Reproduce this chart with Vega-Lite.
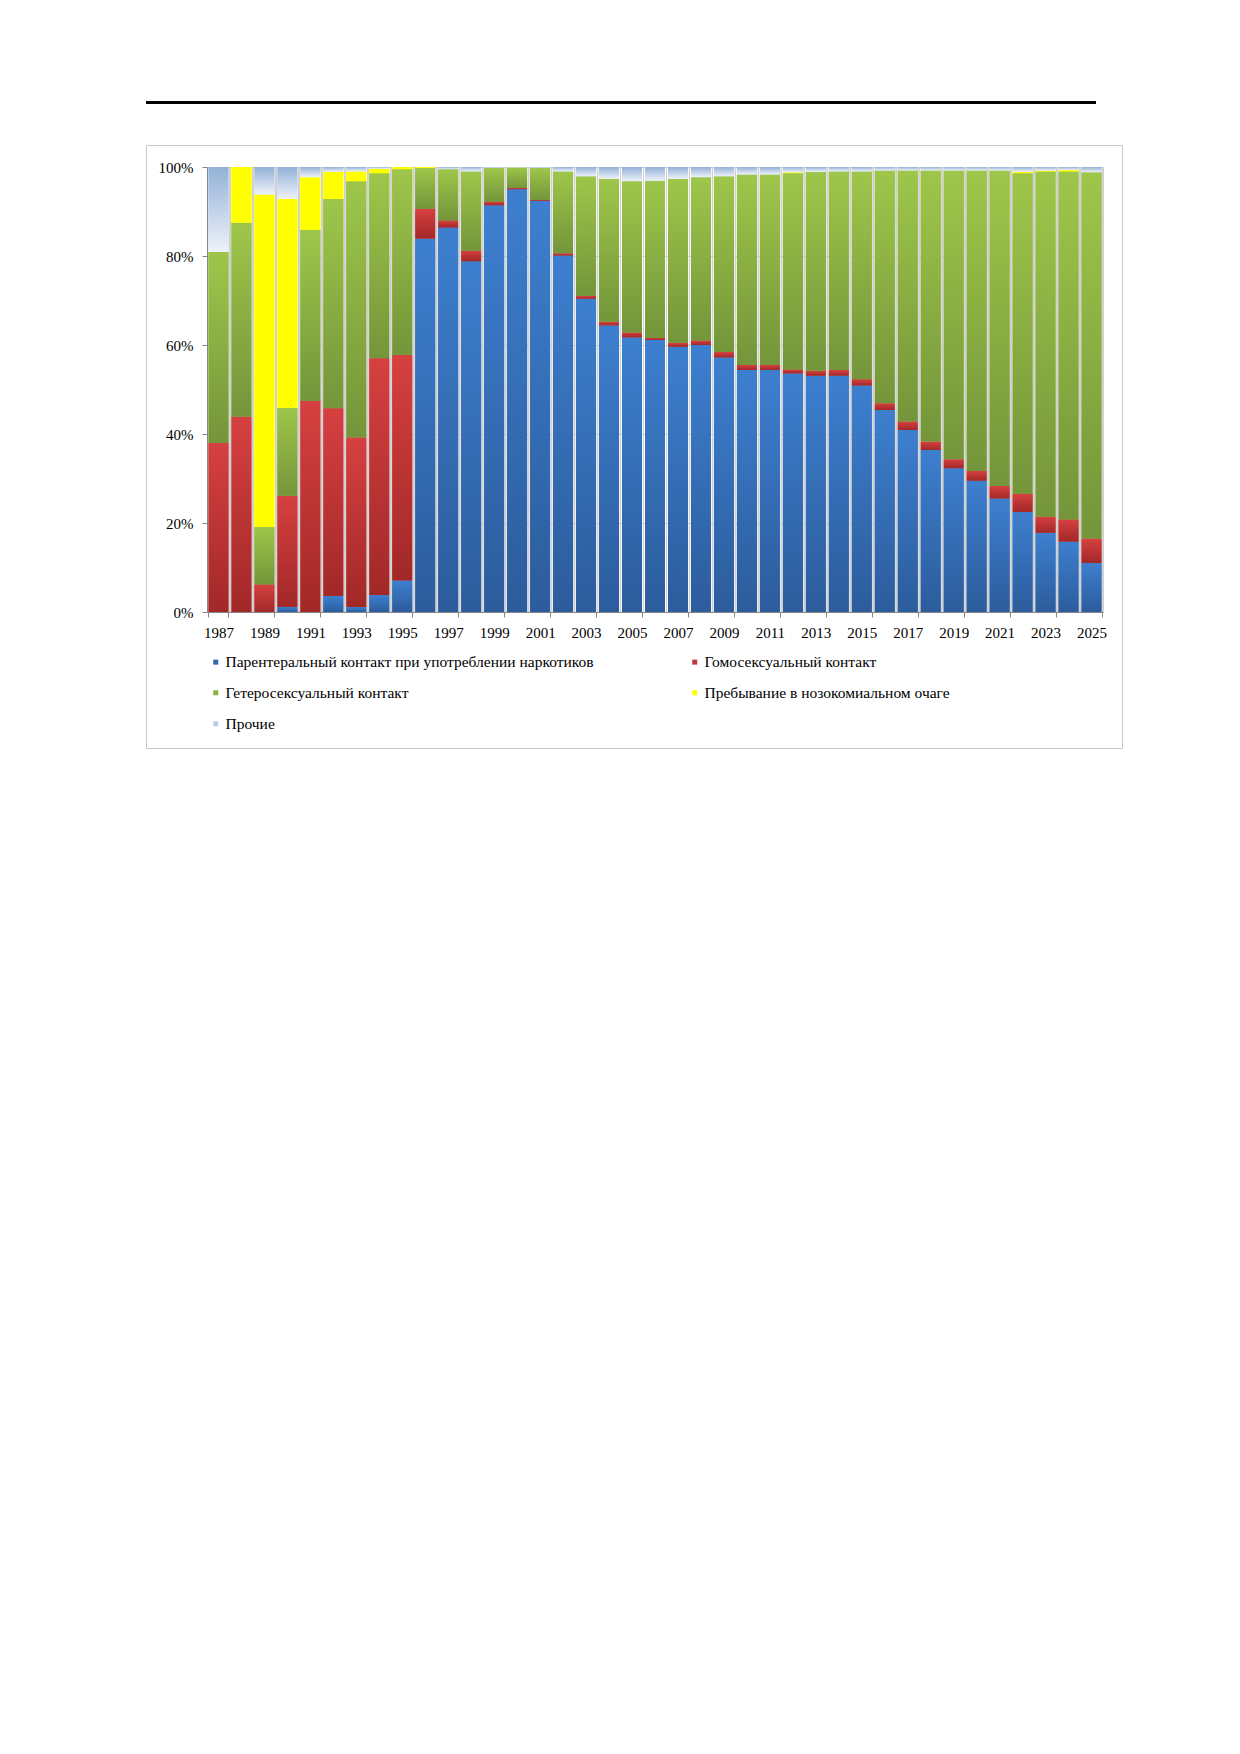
{
  "$schema": "https://vega.github.io/schema/vega-lite/v6.json",
  "description": "Распределение путей передачи ВИЧ по годам, 1987-2025, доля в процентах.",
  "padding": {"left": 145, "top": 96, "right": 0, "bottom": 0},
  "spacing": 36,
  "config": {"font": "Liberation Serif"},
  "vconcat": [
    {
      "width": 950,
      "height": 3,
      "view": {"stroke": null, "fill": "#000000"},
      "data": {"values": [{}]},
      "mark": {"type": "text"},
      "encoding": {"text": {"value": ""}}
    },
    {
      "width": 976,
      "height": 603,
      "view": {"stroke": "#C8C8C8", "strokeWidth": 1, "fill": "#FFFFFF"},
      "data": {
        "values": [
          {"year": 1987, "idu": 0, "msm": 38.0, "het": 42.9, "noso": 0, "oth": 19.1},
          {"year": 1988, "idu": 0, "msm": 43.9, "het": 43.6, "noso": 12.5, "oth": 0},
          {"year": 1989, "idu": 0, "msm": 6.2, "het": 12.9, "noso": 74.7, "oth": 6.2},
          {"year": 1990, "idu": 1.1, "msm": 25.0, "het": 19.8, "noso": 46.9, "oth": 7.2},
          {"year": 1991, "idu": 0, "msm": 47.4, "het": 38.5, "noso": 11.8, "oth": 2.3},
          {"year": 1992, "idu": 3.6, "msm": 42.2, "het": 47.0, "noso": 6.1, "oth": 1.1},
          {"year": 1993, "idu": 1.1, "msm": 38.1, "het": 57.6, "noso": 2.2, "oth": 1.0},
          {"year": 1994, "idu": 3.8, "msm": 53.2, "het": 41.6, "noso": 1.0, "oth": 0.4},
          {"year": 1995, "idu": 7.1, "msm": 50.7, "het": 41.7, "noso": 0.5, "oth": 0},
          {"year": 1996, "idu": 83.9, "msm": 6.7, "het": 9.2, "noso": 0.2, "oth": 0},
          {"year": 1997, "idu": 86.4, "msm": 1.6, "het": 11.5, "noso": 0, "oth": 0.5},
          {"year": 1998, "idu": 78.8, "msm": 2.4, "het": 17.8, "noso": 0, "oth": 1.0},
          {"year": 1999, "idu": 91.4, "msm": 0.8, "het": 7.6, "noso": 0, "oth": 0.2},
          {"year": 2000, "idu": 95.0, "msm": 0.3, "het": 4.6, "noso": 0, "oth": 0.1},
          {"year": 2001, "idu": 92.4, "msm": 0.2, "het": 7.2, "noso": 0, "oth": 0.2},
          {"year": 2002, "idu": 80.1, "msm": 0.5, "het": 18.4, "noso": 0, "oth": 1.0},
          {"year": 2003, "idu": 70.4, "msm": 0.6, "het": 26.9, "noso": 0, "oth": 2.1},
          {"year": 2004, "idu": 64.4, "msm": 0.8, "het": 32.1, "noso": 0, "oth": 2.7},
          {"year": 2005, "idu": 61.7, "msm": 1.1, "het": 34.0, "noso": 0, "oth": 3.2},
          {"year": 2006, "idu": 61.1, "msm": 0.5, "het": 35.3, "noso": 0, "oth": 3.1},
          {"year": 2007, "idu": 59.6, "msm": 0.9, "het": 36.8, "noso": 0, "oth": 2.7},
          {"year": 2008, "idu": 60.0, "msm": 1.0, "het": 36.7, "noso": 0, "oth": 2.3},
          {"year": 2009, "idu": 57.2, "msm": 1.2, "het": 39.5, "noso": 0, "oth": 2.1},
          {"year": 2010, "idu": 54.4, "msm": 1.1, "het": 42.8, "noso": 0, "oth": 1.7},
          {"year": 2011, "idu": 54.4, "msm": 1.1, "het": 42.8, "noso": 0, "oth": 1.7},
          {"year": 2012, "idu": 53.6, "msm": 0.9, "het": 44.1, "noso": 0.2, "oth": 1.2},
          {"year": 2013, "idu": 53.1, "msm": 1.1, "het": 44.7, "noso": 0, "oth": 1.1},
          {"year": 2014, "idu": 53.1, "msm": 1.3, "het": 44.6, "noso": 0, "oth": 1.0},
          {"year": 2015, "idu": 50.9, "msm": 1.4, "het": 46.7, "noso": 0, "oth": 1.0},
          {"year": 2016, "idu": 45.4, "msm": 1.5, "het": 52.3, "noso": 0, "oth": 0.8},
          {"year": 2017, "idu": 40.9, "msm": 1.9, "het": 56.4, "noso": 0, "oth": 0.8},
          {"year": 2018, "idu": 36.4, "msm": 1.9, "het": 60.9, "noso": 0, "oth": 0.8},
          {"year": 2019, "idu": 32.3, "msm": 2.0, "het": 64.9, "noso": 0, "oth": 0.8},
          {"year": 2020, "idu": 29.5, "msm": 2.2, "het": 67.5, "noso": 0, "oth": 0.8},
          {"year": 2021, "idu": 25.5, "msm": 2.8, "het": 70.9, "noso": 0, "oth": 0.8},
          {"year": 2022, "idu": 22.5, "msm": 4.1, "het": 72.0, "noso": 0.3, "oth": 1.1},
          {"year": 2023, "idu": 17.8, "msm": 3.6, "het": 77.6, "noso": 0.2, "oth": 0.8},
          {"year": 2024, "idu": 15.8, "msm": 5.0, "het": 78.2, "noso": 0.3, "oth": 0.7},
          {"year": 2025, "idu": 11.0, "msm": 5.5, "het": 82.3, "noso": 0, "oth": 1.2}
        ]
      },
      "transform": [
        {"fold": ["idu", "msm", "het", "noso", "oth"], "as": ["cause", "share"]},
        {"calculate": "indexof(['idu', 'msm', 'het', 'noso', 'oth'], datum.cause)", "as": "k"}
      ],
      "encoding": {
        "x": {
          "field": "year",
          "type": "ordinal",
          "scale": {"range": [61, 957], "paddingInner": 0.13, "paddingOuter": 0.065},
          "axis": {
            "title": null,
            "offset": -136,
            "labelAngle": 0,
            "labelOverlap": false,
            "labelExpr": "datum.value % 2 == 1 ? datum.label : ''",
            "labelFont": "Liberation Serif",
            "labelFontSize": 15,
            "labelColor": "#000000",
            "labelPadding": 8,
            "tickBand": "extent",
            "tickSize": 5,
            "tickColor": "#868686",
            "tickOpacity": {"condition": {"test": "datum.value % 2 == 0", "value": 0}, "value": 1},
            "domainColor": "#868686",
            "grid": false
          }
        },
        "y": {
          "field": "share",
          "type": "quantitative",
          "stack": "zero",
          "scale": {"domain": [0, 100], "range": [467, 22]},
          "axis": {
            "title": null,
            "offset": -61,
            "values": [0, 20, 40, 60, 80, 100],
            "labelExpr": "datum.value + '%'",
            "labelFont": "Liberation Serif",
            "labelFontSize": 15,
            "labelColor": "#000000",
            "labelPadding": 9,
            "tickSize": 5,
            "tickColor": "#868686",
            "domainColor": "#868686",
            "grid": true,
            "gridColor": "#D0D0D0"
          }
        },
        "order": {"field": "k", "type": "quantitative"}
      },
      "layer": [
        {
          "mark": {"type": "rule", "color": "#D0D0D0", "strokeWidth": 1, "xOffset": 1.5},
          "encoding": {
            "x": {"field": "year", "type": "ordinal", "bandPosition": 1},
            "y": {"datum": 0},
            "y2": {"datum": 100}
          }
        },
        {
          "mark": {"type": "bar"},
          "encoding": {
            "color": {
              "field": "cause",
              "type": "nominal",
              "scale": {
                "domain": ["idu", "msm", "het", "noso", "oth"],
                "range": ["#3366AA", "#C0393B", "#8AB041", "#FFFF00", "#B9CDE5"]
              },
              "legend": {
                "title": null,
                "orient": "none",
                "direction": "horizontal",
                "legendX": 62,
                "legendY": 553,
                "columns": 2,
                "columnPadding": 85,
                "rowPadding": 14,
                "symbolType": "square",
                "symbolSize": 25,
                "symbolStrokeWidth": 0,
                "labelFont": "Liberation Serif",
                "labelFontSize": 15.5,
                "labelColor": "#000000",
                "labelLimit": 600,
                "labelOffset": 2,
                "labelExpr": "datum.value == 'idu' ? 'Парентеральный  контакт при употреблении  наркотиков' : datum.value == 'msm' ? 'Гомосексуальный  контакт' : datum.value == 'het' ? 'Гетеросексуальный  контакт' : datum.value == 'noso' ? 'Пребывание в нозокомиальном очаге' : 'Прочие'"
              }
            }
          }
        },
        {
          "mark": {"type": "bar"},
          "encoding": {
            "detail": {"field": "cause", "type": "nominal"},
            "fill": {
              "condition": [
                {"test": "datum.cause == 'idu'", "value": {"gradient": "linear", "x1": 0, "y1": 0, "x2": 0, "y2": 1, "stops": [{"offset": 0, "color": "#3D7FCF"}, {"offset": 1, "color": "#2C5C9C"}]}},
                {"test": "datum.cause == 'msm'", "value": {"gradient": "linear", "x1": 0, "y1": 0, "x2": 0, "y2": 1, "stops": [{"offset": 0, "color": "#D64040"}, {"offset": 1, "color": "#A22828"}]}},
                {"test": "datum.cause == 'het'", "value": {"gradient": "linear", "x1": 0, "y1": 0, "x2": 0, "y2": 1, "stops": [{"offset": 0, "color": "#9EC64A"}, {"offset": 1, "color": "#74953A"}]}},
                {"test": "datum.cause == 'oth'", "value": {"gradient": "linear", "x1": 0, "y1": 0, "x2": 0, "y2": 1, "stops": [{"offset": 0, "color": "#93B1D8"}, {"offset": 1, "color": "#EEF2F9"}]}}
              ],
              "value": "#FFFF00"
            }
          }
        }
      ]
    }
  ]
}
